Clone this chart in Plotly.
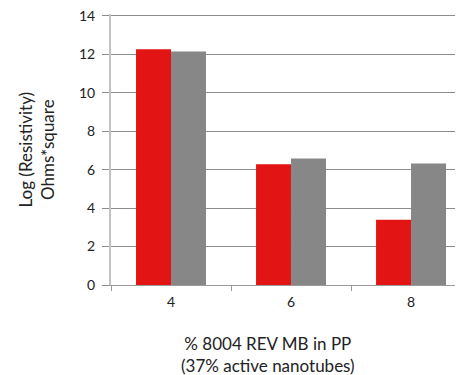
import plotly.graph_objects as go

categories = ["4", "6", "8"]
red_values = [12.27, 6.28, 3.39]
gray_values = [12.15, 6.58, 6.32]
y_ticks = [0, 2, 4, 6, 8, 10, 12, 14]

font = "Lato, Open Sans, sans-serif"

fig = go.Figure()
fig.add_trace(go.Bar(x=categories, y=red_values, marker=dict(color="#e31414", line=dict(width=0)), name="A"))
fig.add_trace(go.Bar(x=categories, y=gray_values, marker=dict(color="#878787", line=dict(width=0)), name="B"))

fig.update_layout(
    width=455, height=367,
    margin=dict(l=103, r=0, t=6, b=90, autoexpand=False),
    paper_bgcolor="white", plot_bgcolor="white",
    barmode="group", bargap=0.417, bargroupgap=0,
    showlegend=False,
    font=dict(family=font, color="#222222", size=13),
    xaxis=dict(
        type="category", range=[-0.5, 2.433], automargin=False,
        showgrid=False, showline=True, linecolor="#9a9a9a", linewidth=1,
        ticks="outside", tickson="boundaries", ticklen=5, tickcolor="#9a9a9a",
        tickfont=dict(size=14, family=font, color="#222222"),
        ticklabelstandoff=4, ticklabeloverflow="allow",
    ),
    yaxis=dict(
        range=[0, 14.1], tickvals=y_ticks, automargin=False,
        showgrid=True, gridcolor="#8c8c8c", gridwidth=1,
        showline=True, linecolor="#c4c4c4", linewidth=2,
        ticks="outside", ticklen=7, tickcolor="#8c8c8c",
        tickfont=dict(size=14, family=font, color="#222222"),
        ticklabelstandoff=4, ticklabeloverflow="allow",
        zeroline=False,
    ),
    annotations=[
        dict(text="Log (Resistivity)<br>Ohms*square", xref="paper", yref="paper",
             x=-0.213, y=0.5, textangle=-90, showarrow=False,
             font=dict(size=17, family=font, color="#222222"), xanchor="center", yanchor="middle"),
        dict(text="% 8004 REV MB in PP<br>(37% active nanotubes)", xref="paper", yref="paper",
             x=0.446, y=-0.255, showarrow=False, align="center",
             font=dict(size=17, family=font, color="#222222"), xanchor="center", yanchor="middle"),
    ],
)

fig.write_html("out.html")
